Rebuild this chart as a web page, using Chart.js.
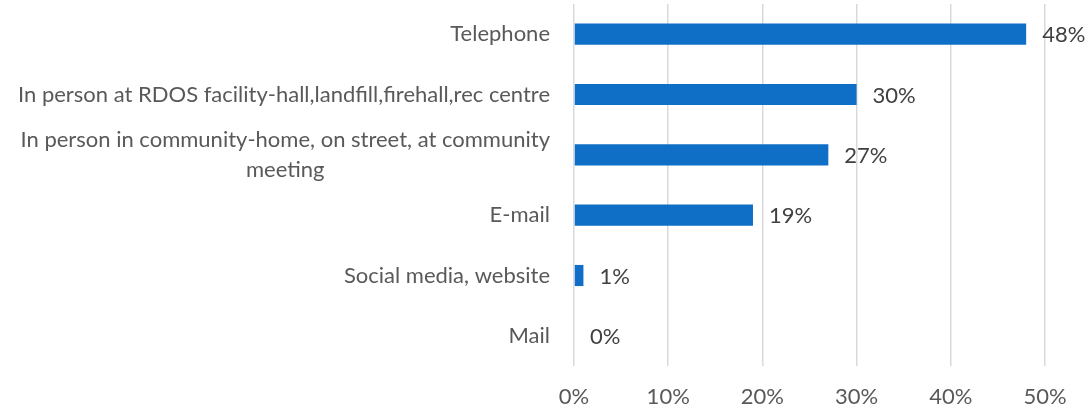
<!DOCTYPE html>
<html>
<head>
<meta charset="utf-8">
<script src="https://cdn.jsdelivr.net/npm/chart.js@4/dist/chart.umd.min.js"></script>
<style>
  html, body { margin: 0; padding: 0; background: #fff; }
  #wrap { width: 1091px; height: 411px; }
</style>
</head>
<body>
<div id="wrap"><canvas id="contactChart" width="1091" height="411"></canvas></div>
<script>
const categories = [
    ["Telephone"],
    ["In person at RDOS facility-hall,landfill,firehall,rec centre"],
    ["In person in community-home, on street, at community", "meeting"],
    ["E-mail"],
    ["Social media, website"],
    ["Mail"]
];
const shares = [48, 30, 27, 19, 1, 0];
const xTicks = [0, 10, 20, 30, 40, 50];

const FONT = "Lato, sans-serif";
const FONT_SIZE = 22;

// category names: block right-aligned against the axis, lines centred inside it
const categoryLabels = {
    id: "categoryLabels",
    afterDraw(chart) {
        const ctx = chart.ctx;
        const y = chart.scales.y;
        const right = chart.chartArea.left - 24;
        ctx.save();
        ctx.font = FONT_SIZE + "px " + FONT;
        ctx.fillStyle = "#595959";
        ctx.textAlign = "center";
        ctx.textBaseline = "middle";
        categories.forEach((lines, i) => {
            const w = Math.max(...lines.map(l => ctx.measureText(l).width));
            const cx = right - w / 2;
            const cy = y.getPixelForValue(i);
            const lh = 30;
            const top = cy - (lines.length - 1) * lh / 2;
            lines.forEach((l, k) => ctx.fillText(l, cx, top + k * lh));
        });
        ctx.restore();
    }
};

// percentage next to each bar end
const valueLabels = {
    id: "valueLabels",
    afterDatasetsDraw(chart) {
        const ctx = chart.ctx;
        const meta = chart.getDatasetMeta(0);
        ctx.save();
        ctx.font = FONT_SIZE + "px " + FONT;
        ctx.fillStyle = "#404040";
        ctx.textAlign = "left";
        ctx.textBaseline = "middle";
        meta.data.forEach((bar, i) => {
            ctx.fillText(shares[i] + "%", bar.x + 16, bar.y + 1);
        });
        ctx.restore();
    }
};

new Chart(document.getElementById("contactChart").getContext("2d"), {
    type: "bar",
    data: {
        labels: categories.map(c => c.join(" ")),
        datasets: [{
            data: shares,
            backgroundColor: "#0f6fc6",
            borderWidth: 0,
            categoryPercentage: 0.35,
            barPercentage: 1
        }]
    },
    options: {
        indexAxis: "y",
        responsive: false,
        animation: false,
        layout: { padding: { top: 4, right: 46, bottom: 0, left: 0 } },
        plugins: { legend: { display: false }, tooltip: { enabled: false } },
        scales: {
            x: {
                min: 0,
                max: 50,
                afterBuildTicks(axis) { axis.ticks = xTicks.map(v => ({ value: v })); },
                afterFit(axis) { axis.height = 45; },
                grid: { color: "#d9d9d9", lineWidth: 1.5, drawTicks: false },
                border: { display: false },
                ticks: {
                    padding: 18,
                    color: "#595959",
                    font: { family: FONT, size: FONT_SIZE },
                    callback: v => v + "%"
                }
            },
            y: {
                afterFit(axis) { axis.width = 574; },
                grid: { display: false, drawTicks: false },
                border: { display: false },
                ticks: { display: false }
            }
        }
    },
    plugins: [categoryLabels, valueLabels]
});
</script>
</body>
</html>
